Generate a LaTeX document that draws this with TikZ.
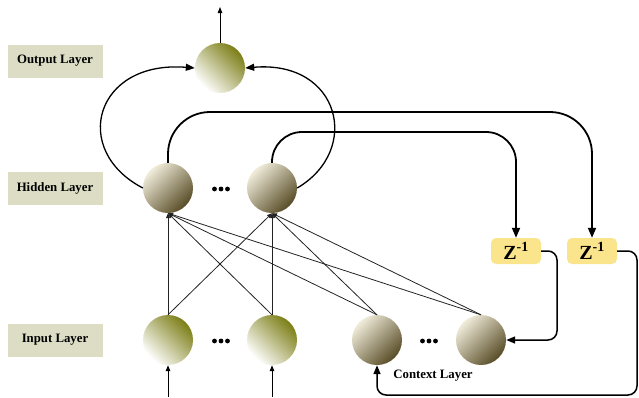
\documentclass[tikz,border=0pt]{standalone}
\usepackage{fontspec}
\setmainfont{Liberation Serif}
\usetikzlibrary{arrows.meta}
\definecolor{labelfill}{RGB}{221,221,198}
\definecolor{zfill}{RGB}{251,229,140}
\definecolor{olivedark}{RGB}{124,126,22}
\definecolor{brownlight}{RGB}{240,236,218}
\definecolor{browndark}{RGB}{88,76,38}
\definecolor{wire}{RGB}{35,35,35}
\begin{document}
\begin{tikzpicture}[x=1pt,y=-1pt,
  layerlabel/.style={fill=labelfill, minimum width=95pt, minimum height=33pt,
    inner sep=0pt, font=\fontsize{12.8}{14}\selectfont\bfseries},
  greennode/.style={circle, minimum size=50pt, inner sep=0pt,
    top color=white, bottom color=olivedark, shading angle=135},
  brownnode/.style={circle, minimum size=50pt, inner sep=0pt,
    top color=brownlight, bottom color=browndark, shading angle=45},
  delaybox/.style={fill=zfill, rounded corners=5pt, minimum width=50pt,
    minimum height=26pt, inner sep=0pt, font=\fontsize{20}{21}\selectfont\bfseries},
  thinlink/.style={draw=wire, line width=0.8pt, -{Triangle[length=5pt,width=4pt]}},
  stub/.style={draw=black, line width=1pt, -{Triangle[length=6pt,width=4.5pt]}},
  loopback/.style={line width=1.3pt, -{Triangle[length=9pt,width=7pt]}},
  feedback/.style={line width=1.8pt, -{Triangle[length=10pt,width=8pt]}},
  returnlink/.style={line width=1.5pt, rounded corners=9pt, -{Triangle[length=9pt,width=7pt]}}
]
\useasboundingbox (0,0) rectangle (639,397);

% layer captions
\node[layerlabel] (lo) at (55,61) {Output Layer};
\node[layerlabel] (lh) at (55,188) {Hidden Layer};
\node[layerlabel] (li) at (55,340) {Input Layer};

% neurons
\node[greennode] (o) at (220,68) {};
\node[brownnode] (h1) at (168,188) {};
\node[brownnode] (h2) at (272,188) {};
\node[greennode] (i1) at (168,340) {};
\node[greennode] (i2) at (272,340) {};
\node[brownnode] (c1) at (377,340) {};
\node[brownnode] (c2) at (481,340) {};

% unit delays
\node[delaybox] (z1) at (516,251) {Z\textsuperscript{-1}};
\node[delaybox] (z2) at (592,251) {Z\textsuperscript{-1}};

\node[font=\fontsize{12.8}{14}\selectfont\bfseries] (cl) at (433,376) {Context Layer};

% ellipsis dots
\foreach \cx/\cy in {221/189, 221/341, 429/341}
  \foreach \d in {-6.5,0,6.5}
    \fill (\cx+\d,\cy) circle (2.4pt);

% free ends and routing levels
\coordinate (top) at (220,7);
\coordinate (x1) at (168,397);
\coordinate (x2) at (272,397);
\coordinate (fb1) at (0,112);
\coordinate (fb2) at (0,132);
\coordinate (r1) at (557,0);
\coordinate (r2) at (637,0);
\coordinate (rb) at (0,395);

% full connections into the hidden layer
\foreach \s in {i1,i2,c1,c2}
  \foreach \t in {h1,h2}
    \draw[thinlink] (\s.north) -- (\t.south);

% inputs and output
\draw[stub] (x1) -- (i1.south);
\draw[stub] (x2) -- (i2.south);
\draw[stub] (o.north) -- (top);

% hidden to output
\draw[loopback] (h1.west) .. controls (70,150) and (95,60) .. (o.west);
\draw[loopback] (h2.east) .. controls (362,150) and (340,60) .. (o.east);

% hidden to delays
\draw[feedback, rounded corners=42pt] (h1.north) -- (h1.north |- fb1) -- (z2.north |- fb1) -- (z2.north);
\draw[feedback, rounded corners=30pt] (h2.north) -- (h2.north |- fb2) -- (z1.north |- fb2) -- (z1.north);

% delays to context
\draw[returnlink] (z1.east) -| (c2.east -| r1) -- (c2.east);
\draw[returnlink] (z2.east) -| (r2 |- rb) -| (c1.south);
\end{tikzpicture}
\end{document}
